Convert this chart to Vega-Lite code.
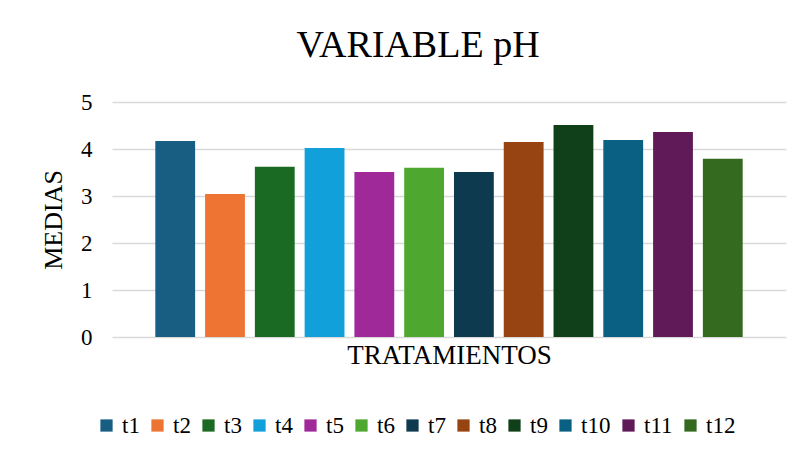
{
  "$schema": "https://vega.github.io/schema/vega-lite/v6.json",
  "width": 674,
  "height": 235,
  "autosize": {"type": "none"},
  "padding": {"left": 112, "top": 102, "right": 17, "bottom": 122},
  "background": "white",
  "title": {
    "text": "VARIABLE pH",
    "font": "Liberation Serif",
    "fontSize": 38,
    "fontWeight": "normal",
    "color": "#000000",
    "anchor": "middle",
    "dx": -31,
    "offset": 26
  },
  "data": {
    "values": [
      {"tratamiento": "t1", "media": 4.17},
      {"tratamiento": "t2", "media": 3.04},
      {"tratamiento": "t3", "media": 3.62},
      {"tratamiento": "t4", "media": 4.02},
      {"tratamiento": "t5", "media": 3.51},
      {"tratamiento": "t6", "media": 3.6},
      {"tratamiento": "t7", "media": 3.51},
      {"tratamiento": "t8", "media": 4.15},
      {"tratamiento": "t9", "media": 4.51},
      {"tratamiento": "t10", "media": 4.19},
      {"tratamiento": "t11", "media": 4.36},
      {"tratamiento": "t12", "media": 3.79}
    ]
  },
  "mark": {"type": "bar"},
  "encoding": {
    "x": {
      "field": "tratamiento",
      "type": "nominal",
      "sort": null,
      "scale": {"paddingInner": 0.2, "paddingOuter": 0.87},
      "axis": {
        "title": "TRATAMIENTOS",
        "labels": false,
        "ticks": false,
        "domain": false,
        "grid": false,
        "titleFont": "Liberation Serif",
        "titleFontSize": 27,
        "titleFontWeight": "normal",
        "titleColor": "#000000",
        "titlePadding": 5
      }
    },
    "y": {
      "field": "media",
      "type": "quantitative",
      "scale": {"domain": [0, 5], "nice": false},
      "axis": {
        "title": "MEDIAS",
        "values": [0, 1, 2, 3, 4, 5],
        "labelOverlap": false,
        "domain": false,
        "ticks": false,
        "grid": true,
        "gridColor": "#d9d9d9",
        "gridWidth": 1.5,
        "labelFont": "Liberation Serif",
        "labelFontSize": 23,
        "labelColor": "#000000",
        "labelPadding": 20,
        "titleFont": "Liberation Serif",
        "titleFontSize": 26,
        "titleFontWeight": "normal",
        "titleColor": "#000000",
        "titlePadding": 14
      }
    },
    "color": {
      "field": "tratamiento",
      "type": "nominal",
      "sort": null,
      "scale": {
        "domain": ["t1", "t2", "t3", "t4", "t5", "t6", "t7", "t8", "t9", "t10", "t11", "t12"],
        "range": ["#185e82", "#ed7432", "#1b6a23", "#11a0d9", "#a0299a", "#4ea72e", "#0e3a50", "#984312", "#10401a", "#0a6082", "#601a58", "#336a1f"]
      },
      "legend": {
        "title": null,
        "orient": "none",
        "direction": "horizontal",
        "legendX": -17,
        "legendY": 312,
        "symbolType": "square",
        "symbolSize": 150,
        "symbolStrokeWidth": 0,
        "labelFont": "Liberation Serif",
        "labelFontSize": 23,
        "labelColor": "#000000",
        "labelOffset": 4,
        "columnPadding": 6,
        "gridAlign": "none"
      }
    }
  },
  "config": {
    "view": {"stroke": null},
    "axis": {"gridOpacity": 1}
  }
}
